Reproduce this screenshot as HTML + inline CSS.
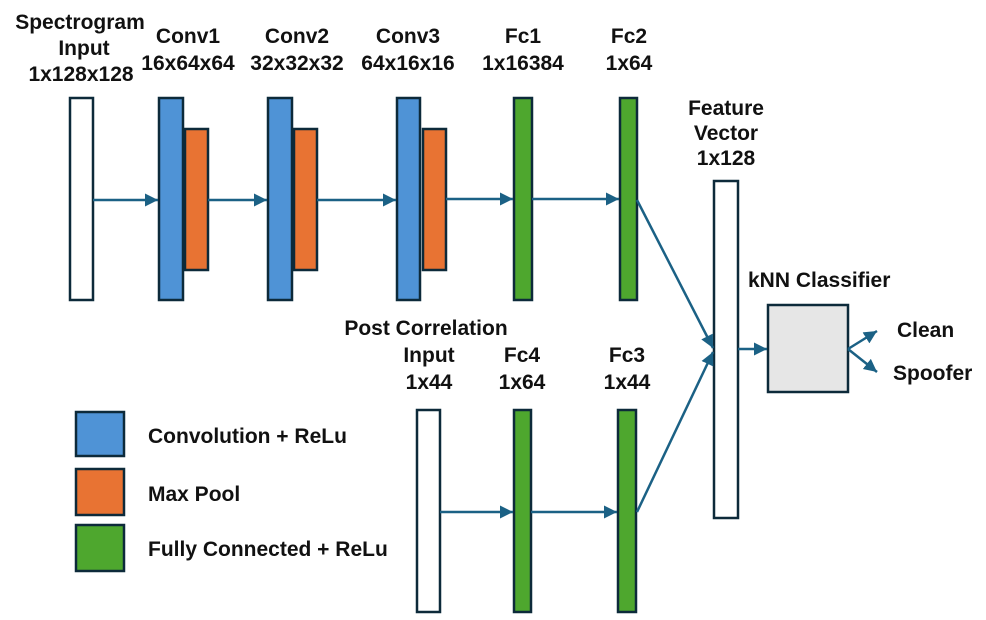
<!DOCTYPE html>
<html><head><style>
body{margin:0;background:#fff;}
svg text{font-family:"Liberation Sans",sans-serif;font-weight:bold;font-size:21px;fill:#111;}
</style></head><body>
<svg width="986" height="615" xmlns="http://www.w3.org/2000/svg">
<defs><marker id="a" markerWidth="14" markerHeight="14" refX="13" refY="6.5" orient="auto" markerUnits="userSpaceOnUse"><path d="M0,0 L13,6.5 L0,13 z" fill="#1b6185"/></marker></defs>
<g stroke="#0d2a3a" stroke-width="2.5">
<rect x="70" y="98" width="23" height="202" fill="#fff"/>
<rect x="159" y="98" width="24" height="202" fill="#4f93d6"/>
<rect x="185" y="129" width="23" height="141" fill="#e87333"/>
<rect x="268" y="98" width="24" height="202" fill="#4f93d6"/>
<rect x="294" y="129" width="23" height="141" fill="#e87333"/>
<rect x="397" y="98" width="23" height="202" fill="#4f93d6"/>
<rect x="423" y="129" width="23" height="141" fill="#e87333"/>
<rect x="514" y="98" width="18" height="202" fill="#4ea72e"/>
<rect x="620" y="98" width="17" height="202" fill="#4ea72e"/>
<rect x="714" y="181" width="24" height="337" fill="#fff"/>
<rect x="768" y="305" width="80" height="87" fill="#e6e6e6"/>
<rect x="417" y="410" width="23" height="202" fill="#fff"/>
<rect x="514" y="410" width="17" height="202" fill="#4ea72e"/>
<rect x="618" y="410" width="18" height="202" fill="#4ea72e"/>
<rect x="76" y="412" width="48" height="44" fill="#4f93d6"/>
<rect x="76" y="469" width="48" height="46" fill="#e87333"/>
<rect x="76" y="525" width="48" height="46" fill="#4ea72e"/>
</g>
<g stroke="#1b6185" stroke-width="2.5" fill="none" marker-end="url(#a)">
<line x1="93" y1="200" x2="158" y2="200"/>
<line x1="208" y1="200" x2="267" y2="200"/>
<line x1="317" y1="200" x2="396" y2="200"/>
<line x1="446" y1="199" x2="513" y2="199"/>
<line x1="532" y1="199" x2="619" y2="199"/>
<line x1="637" y1="200" x2="713" y2="348"/>
<line x1="637" y1="512" x2="713" y2="352"/>
<line x1="440" y1="512" x2="513" y2="512"/>
<line x1="531" y1="512" x2="617" y2="512"/>
<line x1="738" y1="349" x2="767" y2="349"/>
<line x1="848" y1="349" x2="877" y2="331"/>
<line x1="848" y1="349" x2="877" y2="372"/>
</g>
<g text-anchor="middle">
<text x="80" y="29">Spectrogram</text><text x="84" y="55">Input</text><text x="81" y="81">1x128x128</text>
<text x="188" y="43">Conv1</text><text x="188" y="70">16x64x64</text>
<text x="297" y="43">Conv2</text><text x="297" y="70">32x32x32</text>
<text x="408" y="43">Conv3</text><text x="408" y="70">64x16x16</text>
<text x="523" y="43">Fc1</text><text x="523" y="70">1x16384</text>
<text x="629" y="43">Fc2</text><text x="629" y="70">1x64</text>
<text x="726" y="115">Feature</text><text x="726" y="140">Vector</text><text x="726" y="165">1x128</text>
<text x="426" y="335">Post Correlation</text><text x="429" y="362">Input</text><text x="429" y="389">1x44</text>
<text x="522" y="362">Fc4</text><text x="522" y="389">1x64</text>
<text x="627" y="362">Fc3</text><text x="627" y="389">1x44</text>
</g>
<text x="748" y="287">kNN Classifier</text>
<text x="897" y="337">Clean</text>
<text x="893" y="380">Spoofer</text>
<text x="148" y="443">Convolution + ReLu</text>
<text x="148" y="501">Max Pool</text>
<text x="148" y="556">Fully Connected + ReLu</text>
</svg>
</body></html>
